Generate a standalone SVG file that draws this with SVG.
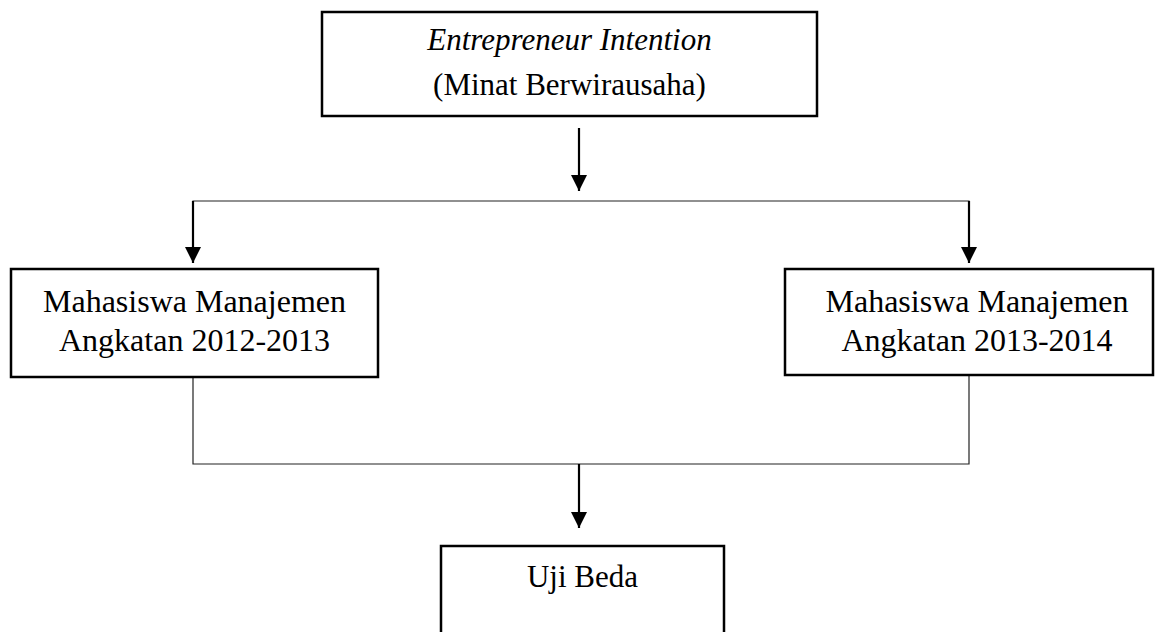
<svg xmlns="http://www.w3.org/2000/svg" width="1158" height="632" viewBox="0 0 1158 632">
<style>
.box{fill:#fff;stroke:#000;stroke-width:2.5}
.t{font-family:"Liberation Serif","Times New Roman",serif;font-size:31px;fill:#000;text-anchor:middle}
.big{font-size:32px}
.it{font-style:italic}
.ln{fill:none;stroke:#222;stroke-width:1.2}
.ar{fill:none;stroke:#000;stroke-width:2.2}
</style>
<defs>
<marker id="ah" markerUnits="userSpaceOnUse" markerWidth="16" markerHeight="16" viewBox="0 0 16 16" refX="16" refY="8" orient="auto">
<path d="M0,0 L16,8 L0,16 Z" fill="#000"/>
</marker>
</defs>
<g id="connectors">
<line class="ar" x1="579" y1="128" x2="579" y2="191" marker-end="url(#ah)"/>
<polyline class="ln" points="193,263 193,201 969,201 969,263"/>
<line class="ar" x1="193" y1="201" x2="193" y2="263" marker-end="url(#ah)"/>
<line class="ar" x1="969" y1="201" x2="969" y2="263" marker-end="url(#ah)"/>
<polyline class="ln" points="193,377 193,464 969,464 969,375"/>
<line class="ar" x1="579" y1="464" x2="579" y2="528" marker-end="url(#ah)"/>
</g>
<g id="node-entrepreneur">
<rect class="box" x="322" y="12" width="495" height="104"/>
<text class="t it" x="569.5" y="50">Entrepreneur Intention</text>
<text class="t" x="569.5" y="95">(Minat Berwirausaha)</text>
</g>
<g id="node-2012">
<rect class="box" x="11" y="269" width="367" height="108"/>
<text class="t big" x="194.5" y="312">Mahasiswa Manajemen</text>
<text class="t big" x="194.5" y="351">Angkatan 2012-2013</text>
</g>
<g id="node-2013">
<rect class="box" x="785" y="269" width="368" height="106"/>
<text class="t big" x="977" y="312">Mahasiswa Manajemen</text>
<text class="t big" x="977" y="351">Angkatan 2013-2014</text>
</g>
<g id="node-uji">
<rect class="box" x="441" y="546" width="283" height="100"/>
<text class="t" x="582.5" y="587">Uji Beda</text>
</g>
</svg>
